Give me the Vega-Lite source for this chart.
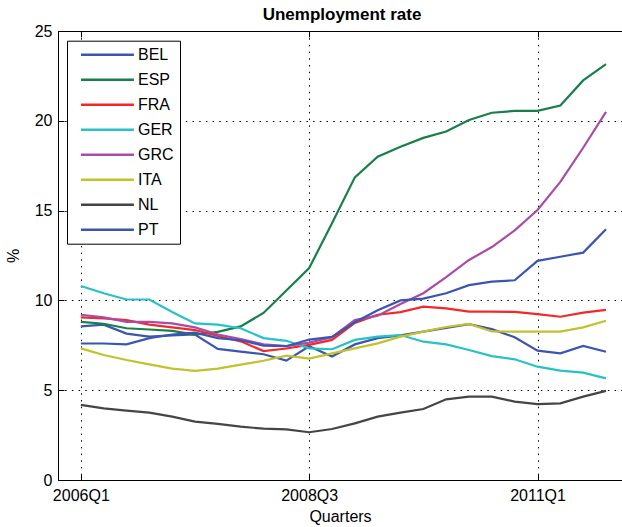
{
  "$schema": "https://vega.github.io/schema/vega-lite/v6.json",
  "width": 564,
  "height": 449,
  "autosize": {"type": "none"},
  "padding": {"left": 58, "top": 31, "right": 0, "bottom": 47},
  "background": "white",
  "title": {
    "text": "Unemployment rate",
    "font": "Liberation Sans",
    "fontSize": 17,
    "fontWeight": "bold",
    "color": "#000",
    "anchor": "middle",
    "baseline": "alphabetic",
    "offset": -13.5,
    "dx": 2
  },
  "data": {
    "values": [
      {"t": 0, "BEL": 8.55, "ESP": 8.8, "FRA": 9.05, "GER": 10.8, "GRC": 9.2, "ITA": 7.33, "NL": 4.18, "PT": 7.6},
      {"t": 1, "BEL": 8.65, "ESP": 8.7, "FRA": 9.0, "GER": 10.4, "GRC": 9.05, "ITA": 6.96, "NL": 3.99, "PT": 7.6},
      {"t": 2, "BEL": 8.15, "ESP": 8.45, "FRA": 8.9, "GER": 10.05, "GRC": 8.8, "ITA": 6.68, "NL": 3.86, "PT": 7.55},
      {"t": 3, "BEL": 7.98, "ESP": 8.38, "FRA": 8.65, "GER": 10.05, "GRC": 8.8, "ITA": 6.44, "NL": 3.75, "PT": 7.9},
      {"t": 4, "BEL": 8.05, "ESP": 8.3, "FRA": 8.5, "GER": 9.35, "GRC": 8.72, "ITA": 6.2, "NL": 3.53, "PT": 8.1},
      {"t": 5, "BEL": 8.1, "ESP": 8.1, "FRA": 8.35, "GER": 8.72, "GRC": 8.5, "ITA": 6.08, "NL": 3.25, "PT": 8.2},
      {"t": 6, "BEL": 7.3, "ESP": 8.25, "FRA": 8.02, "GER": 8.65, "GRC": 8.1, "ITA": 6.2, "NL": 3.12, "PT": 7.9},
      {"t": 7, "BEL": 7.15, "ESP": 8.55, "FRA": 7.72, "GER": 8.45, "GRC": 7.85, "ITA": 6.42, "NL": 2.97, "PT": 7.78},
      {"t": 8, "BEL": 7.0, "ESP": 9.3, "FRA": 7.18, "GER": 7.9, "GRC": 7.55, "ITA": 6.64, "NL": 2.86, "PT": 7.48},
      {"t": 9, "BEL": 6.65, "ESP": 10.55, "FRA": 7.32, "GER": 7.75, "GRC": 7.45, "ITA": 6.92, "NL": 2.82, "PT": 7.45},
      {"t": 10, "BEL": 7.45, "ESP": 11.8, "FRA": 7.52, "GER": 7.33, "GRC": 7.65, "ITA": 6.76, "NL": 2.66, "PT": 7.82},
      {"t": 11, "BEL": 6.88, "ESP": 14.3, "FRA": 7.8, "GER": 7.28, "GRC": 7.95, "ITA": 7.05, "NL": 2.84, "PT": 7.97},
      {"t": 12, "BEL": 7.55, "ESP": 16.85, "FRA": 8.75, "GER": 7.8, "GRC": 8.9, "ITA": 7.33, "NL": 3.15, "PT": 8.78},
      {"t": 13, "BEL": 7.9, "ESP": 18.0, "FRA": 9.2, "GER": 7.98, "GRC": 9.15, "ITA": 7.61, "NL": 3.53, "PT": 9.45},
      {"t": 14, "BEL": 8.05, "ESP": 18.55, "FRA": 9.35, "GER": 8.07, "GRC": 9.8, "ITA": 7.98, "NL": 3.75, "PT": 10.0},
      {"t": 15, "BEL": 8.26, "ESP": 19.05, "FRA": 9.65, "GER": 7.7, "GRC": 10.4, "ITA": 8.26, "NL": 3.95, "PT": 10.1},
      {"t": 16, "BEL": 8.47, "ESP": 19.4, "FRA": 9.56, "GER": 7.55, "GRC": 11.3, "ITA": 8.52, "NL": 4.49, "PT": 10.4},
      {"t": 17, "BEL": 8.68, "ESP": 20.05, "FRA": 9.38, "GER": 7.24, "GRC": 12.25, "ITA": 8.69, "NL": 4.64, "PT": 10.85},
      {"t": 18, "BEL": 8.4, "ESP": 20.45, "FRA": 9.38, "GER": 6.9, "GRC": 12.97, "ITA": 8.27, "NL": 4.64, "PT": 11.05},
      {"t": 19, "BEL": 7.95, "ESP": 20.55, "FRA": 9.36, "GER": 6.72, "GRC": 13.9, "ITA": 8.26, "NL": 4.36, "PT": 11.12},
      {"t": 20, "BEL": 7.2, "ESP": 20.55, "FRA": 9.24, "GER": 6.31, "GRC": 15.03, "ITA": 8.26, "NL": 4.23, "PT": 12.2},
      {"t": 21, "BEL": 7.05, "ESP": 20.85, "FRA": 9.09, "GER": 6.09, "GRC": 16.6, "ITA": 8.26, "NL": 4.27, "PT": 12.43},
      {"t": 22, "BEL": 7.46, "ESP": 22.25, "FRA": 9.32, "GER": 5.98, "GRC": 18.5, "ITA": 8.5, "NL": 4.64, "PT": 12.66},
      {"t": 23, "BEL": 7.14, "ESP": 23.15, "FRA": 9.47, "GER": 5.66, "GRC": 20.5, "ITA": 8.87, "NL": 4.96, "PT": 13.96}
    ]
  },
  "transform": [
    {"fold": ["BEL", "ESP", "FRA", "GER", "GRC", "ITA", "NL", "PT"], "as": ["country", "rate"]}
  ],
  "config": {
    "view": {"stroke": null},
    "font": "Liberation Sans",
    "axis": {
      "domainColor": "#000",
      "domainWidth": 1,
      "tickColor": "#000",
      "tickWidth": 1,
      "tickSize": -6,
      "labelFont": "Liberation Sans",
      "labelFontSize": 16,
      "labelColor": "#000",
      "titleFont": "Liberation Sans",
      "titleFontSize": 16,
      "titleFontWeight": "normal",
      "titleColor": "#000",
      "gridColor": "#000",
      "gridDash": [1.5, 5.2],
      "gridOpacity": 1,
      "gridWidth": 1
    }
  },
  "layer": [
    {
      "mark": {"type": "line", "strokeWidth": 2.2},
      "encoding": {
        "x": {
          "field": "t",
          "type": "quantitative",
          "scale": {"domain": [-1, 23.7], "nice": false, "zero": false},
          "axis": {
            "orient": "bottom",
            "values": [0, 10, 20],
            "labelExpr": "(2006 + floor(datum.value / 4)) + 'Q' + (datum.value % 4 + 1)",
            "labelPadding": 13,
            "labelBaseline": "top",
            "title": "Quarters",
            "titleX": 282,
            "titleY": 41.5,
            "titleBaseline": "alphabetic",
            "grid": true
          }
        },
        "y": {
          "field": "rate",
          "type": "quantitative",
          "scale": {"domain": [0, 25], "nice": false},
          "axis": {
            "values": [0, 5, 10, 15, 20, 25],
            "labelPadding": 12,
            "title": "%",
            "titleX": -44.5,
            "titleY": 224.5,
            "titleAngle": 270,
            "titleAlign": "center",
            "titleBaseline": "middle",
            "grid": true
          }
        },
        "color": {
          "field": "country",
          "type": "nominal",
          "scale": {
            "domain": ["BEL", "ESP", "FRA", "GER", "GRC", "ITA", "NL", "PT"],
            "range": ["#3a56b0", "#17804a", "#f42828", "#26c2c6", "#a84ca8", "#c2c22c", "#454545", "#3a56b0"]
          },
          "legend": {
            "orient": "none",
            "legendX": 9,
            "legendY": 9.7,
            "title": null,
            "strokeColor": "#000",
            "fillColor": "#fff",
            "padding": 6,
            "symbolType": "M0,0H10",
            "symbolSize": 112,
            "symbolStrokeWidth": 2.5,
            "symbolFillColor": "transparent",
            "labelFont": "Liberation Sans",
            "labelFontSize": 16,
            "labelColor": "#000",
            "labelOffset": 49,
            "rowPadding": 9
          }
        }
      }
    },
    {
      "mark": {"type": "point", "opacity": 0},
      "encoding": {
        "x": {
          "field": "t",
          "type": "quantitative",
          "axis": {
            "orient": "top",
            "values": [0, 10, 20],
            "labels": false,
            "title": null,
            "grid": false,
            "minExtent": 0,
            "maxExtent": 0
          }
        }
      }
    }
  ],
  "resolve": {"axis": {"x": "independent"}}
}
